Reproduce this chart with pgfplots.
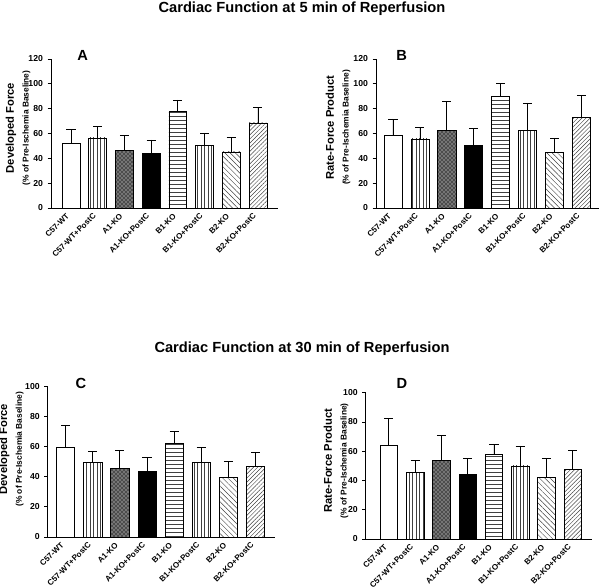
\documentclass[border=0pt]{standalone}
\usepackage{fontspec}
\setmainfont{Liberation Sans}
\usepackage{pgfplots}
\pgfplotsset{compat=1.18}
\usetikzlibrary{patterns,patterns.meta}

\pgfplotsset{
 b0/.style={fill=white},
 b1/.style={pattern={Lines[angle=90,distance=2.6pt,line width=0.35pt]}, pattern color=black!75},
 b2/.style={fill=black!70, postaction={pattern=crosshatch dots, pattern color=white}},
 b3/.style={fill=black},
 b4/.style={pattern={Lines[angle=0,distance=3pt,line width=0.35pt]}, pattern color=black!75},
 b5/.style={pattern={Lines[angle=90,distance=2.6pt,line width=0.35pt]}, pattern color=black!75},
 b6/.style={pattern={Lines[angle=-45,distance=2.8pt,line width=0.35pt]}, pattern color=black!75},
 b7/.style={pattern={Lines[angle=45,distance=2.2pt,line width=0.35pt]}, pattern color=black!75},
 panel/.style={
  scale only axis, clip=false,
  ybar, bar width=0.67,
  ymin=0,
  axis x line*=bottom, axis y line*=left,
  axis line style={black, line width=0.7pt, -},
  xtick={0,...,7},
  xticklabels={C57-WT, C57-WT+PostC, A1-KO, A1-KO+PostC, B1-KO, B1-KO+PostC, B2-KO, B2-KO+PostC},
  x tick label style={rotate=45, anchor=east, font=\fontsize{6}{7}\selectfont\bfseries},
  y tick label style={font=\fontsize{6.5}{7}\selectfont\bfseries},
  /pgf/number format/assume math mode=true,
  x tick style={draw=none},
  y tick style={black, line width=0.7pt},
  tick align=outside, major tick length=2.5pt,
  ylabel style={align=center, anchor=center},
 },
 eb/.style={bar shift=0pt, draw=black, line width=0.5pt,
  error bars/y dir=plus, error bars/y explicit,
  error bars/error bar style={black, line width=0.6pt},
  error bars/error mark options={rotate=90, black, mark size=3.4pt, line width=0.6pt}},
}
\newcommand{\onebar}[4]{\addplot[eb,#1] coordinates {(#2,#3) +- (0,#4)};}
\newcommand{\ylab}[1]{{\fontsize{8.4}{9}\selectfont\bfseries #1}\\[-1pt]{\fontsize{6.3}{7}\selectfont\bfseries (\% of Pre-Ischemia Baseline)}}

\begin{document}
\begin{tikzpicture}
\path[use as bounding box] (0,0) rectangle (450pt,441pt);
\node[font=\fontsize{11}{13}\selectfont\bfseries] at (226.5pt,434.6pt) {Cardiac Function at 5 min of Reperfusion};
\node[font=\fontsize{11}{13}\selectfont\bfseries] at (226.5pt,179.25pt) {Cardiac Function at 30 min of Reperfusion};

% Panel A
\begin{axis}[panel, at={(38.25pt,285pt)}, anchor=south west, width=170.25pt, height=111.75pt,
  ymax=120, xmin=-0.75, xmax=7.75, ytick={0,20,...,120}, ylabel={\ylab{Developed Force}},
  ylabel style={at={(axis description cs:-0.1454,0.537)}}]
\onebar{b0}{0}{52.3}{11.3}
\onebar{b1}{1}{56.4}{9.6}
\onebar{b2}{2}{46.7}{11.8}
\onebar{b3}{3}{44.0}{10.8}
\onebar{b4}{4}{78.1}{8.9}
\onebar{b5}{5}{50.7}{9.7}
\onebar{b6}{6}{45.1}{11.8}
\onebar{b7}{7}{68.5}{12.5}
\node[font=\fontsize{11}{13}\selectfont\bfseries] at (rel axis cs:0.14,1.027) {A};
\end{axis}

% Panel B
\begin{axis}[panel, at={(282pt,285pt)}, anchor=south west, width=167.25pt, height=111.75pt,
  ymax=120, xmin=-0.63, xmax=7.65, ytick={0,20,...,120}, ylabel={\ylab{Rate-Force Product}},
  ylabel style={at={(axis description cs:-0.1704,0.54)}}]
\onebar{b0}{0}{58.8}{12.9}
\onebar{b1}{1}{55.6}{9.4}
\onebar{b2}{2}{62.8}{23.1}
\onebar{b3}{3}{50.5}{13.7}
\onebar{b4}{4}{89.7}{10.7}
\onebar{b5}{5}{62.8}{21.8}
\onebar{b6}{6}{44.8}{11.6}
\onebar{b7}{7}{72.8}{18.2}
\node[font=\fontsize{11}{13}\selectfont\bfseries] at (rel axis cs:0.115,1.027) {B};
\end{axis}

% Panel C
\begin{axis}[panel, at={(35.8pt,38.25pt)}, anchor=south west, width=170.5pt, height=112.7pt,
  ymax=100, xmin=-0.66, xmax=7.72, ytick={0,20,...,100}, ylabel={\ylab{Developed Force}},
  ylabel style={at={(axis description cs:-0.160,0.584)}}]
\onebar{b0}{0}{59.5}{14.6}
\onebar{b1}{1}{49.8}{7.1}
\onebar{b2}{2}{46.0}{11.5}
\onebar{b3}{3}{43.6}{9.5}
\onebar{b4}{4}{62.6}{7.8}
\onebar{b5}{5}{49.8}{9.7}
\onebar{b6}{6}{39.6}{10.8}
\onebar{b7}{7}{47.1}{9.1}
\node[font=\fontsize{11}{13}\selectfont\bfseries] at (rel axis cs:0.146,1.02) {C};
\end{axis}

% Panel D
\begin{axis}[panel, at={(274.3pt,36.75pt)}, anchor=south west, width=169.5pt, height=109.7pt,
  ymax=100, xmin=-0.88, xmax=7.72, ytick={0,20,...,100}, ylabel={\ylab{Rate-Force Product}},
  ylabel style={at={(axis description cs:-0.1316,0.535)}}]
\onebar{b0}{0}{64.3}{18.2}
\onebar{b1}{1}{45.7}{8.2}
\onebar{b2}{2}{53.9}{17.0}
\onebar{b3}{3}{44.3}{10.7}
\onebar{b4}{4}{58.0}{7.0}
\onebar{b5}{5}{50.0}{13.6}
\onebar{b6}{6}{42.3}{12.5}
\onebar{b7}{7}{47.7}{13.0}
\node[font=\fontsize{11}{13}\selectfont\bfseries] at (rel axis cs:0.16,1.064) {D};
\end{axis}
\end{tikzpicture}
\end{document}
